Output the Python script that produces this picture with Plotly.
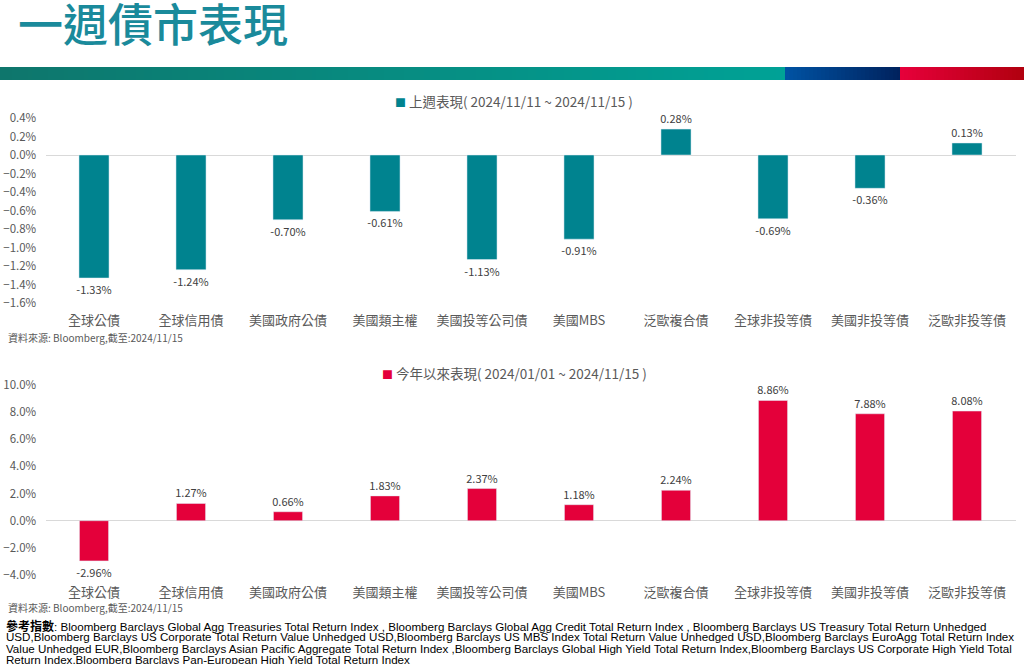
import plotly.graph_objects as go

# ---------------- data ----------------
categories = ["全球公債", "全球信用債", "美國政府公債", "美國類主權", "美國投等公司債",
              "美國MBS", "泛歐複合債", "全球非投等債", "美國非投等債", "泛歐非投等債"]
week_returns = [-1.33, -1.24, -0.70, -0.61, -1.13, -0.91, 0.28, -0.69, -0.36, 0.13]
ytd_returns = [-2.96, 1.27, 0.66, 1.83, 2.37, 1.18, 2.24, 8.86, 7.88, 8.08]
week_label = "上週表現( 2024/11/11 ~ 2024/11/15 )"
ytd_label = "今年以來表現( 2024/01/01 ~ 2024/11/15 )"
title_text = "一週債市表現"
source_text = "資料來源: Bloomberg,截至:2024/11/15"
note_head = "參考指數"
note_lines = [
    ": Bloomberg Barclays Global Agg Treasuries Total Return Index , Bloomberg Barclays Global Agg Credit Total Return Index , Bloomberg Barclays US Treasury Total Return Unhedged",
    "USD,Bloomberg Barclays US Corporate Total Return Value Unhedged USD,Bloomberg Barclays US MBS Index Total Return Value Unhedged USD,Bloomberg Barclays EuroAgg Total Return Index",
    "Value Unhedged EUR,Bloomberg Barclays Asian Pacific Aggregate Total Return Index ,Bloomberg Barclays Global High Yield Total Return Index,Bloomberg Barclays US Corporate High Yield Total",
    "Return Index,Bloomberg Barclays Pan-European High Yield Total Return Index",
]

# ---------------- styling ----------------
W, H = 1024, 664
TEAL = "#00838F"
RED = "#E4003A"
GRAY = "#595959"
CJK = "Noto Sans CJK TC, Noto Sans, sans-serif"


def px(x):
    return x / W


def py(y):
    return 1 - y / H


fig = go.Figure()

label_font = dict(size=11, color="#404040", family=CJK)
fig.add_trace(go.Bar(
    x=categories, y=week_returns, name=week_label, marker_color=TEAL, width=0.31,
    texttemplate="%{y:.2f}%", textposition="outside", cliponaxis=False, constraintext="none",
    textfont=label_font, xaxis="x", yaxis="y", showlegend=False,
))
fig.add_trace(go.Bar(
    x=categories, y=ytd_returns, name=ytd_label, marker_color=RED, width=0.30,
    texttemplate="%{y:.2f}%", textposition="outside", cliponaxis=False, constraintext="none",
    textfont=label_font, xaxis="x2", yaxis="y2", showlegend=False,
))

xdom = [px(45.5), px(1015.5)]
xaxis_common = dict(showgrid=False, showline=False, zeroline=False, ticks="outside", ticklen=5,
                    tickcolor="rgba(0,0,0,0)", tickfont=dict(size=13, color=GRAY, family=CJK),
                    domain=xdom, fixedrange=True)
yaxis_common = dict(showgrid=False, showline=False, zeroline=True, zerolinecolor="#D9D9D9",
                    zerolinewidth=1, ticks="outside", ticklen=6, tickcolor="rgba(0,0,0,0)",
                    tickfont=dict(size=11.5, color=GRAY, family=CJK), ticksuffix="%",
                    tickformat=".1f", fixedrange=True)

fig.update_layout(
    xaxis=dict(**xaxis_common, anchor="y"),
    yaxis=dict(**yaxis_common, anchor="x", range=[-1.6, 0.4], dtick=0.2,
               domain=[py(303), py(118)]),
    xaxis2=dict(**xaxis_common, anchor="y2"),
    yaxis2=dict(**yaxis_common, anchor="x2", range=[-4, 10], dtick=2,
                domain=[py(575), py(385)]),
)


def legend_text(color, label):
    return ("<span style='color:%s;font-size:11px'>■</span> %s" % (color, label))


annotations = [
    dict(text=title_text, x=px(16), y=py(23), xref="paper", yref="paper", xanchor="left",
         yanchor="middle", showarrow=False,
         font=dict(size=45, color="#1A8A9B", family=CJK, weight=500)),
    dict(text=legend_text(TEAL, week_label), x=px(514), y=py(101), xref="paper", yref="paper",
         xanchor="center", yanchor="middle", showarrow=False,
         font=dict(size=13.5, color=GRAY, family=CJK)),
    dict(text=legend_text(RED, ytd_label), x=px(514), y=py(373), xref="paper", yref="paper",
         xanchor="center", yanchor="middle", showarrow=False,
         font=dict(size=13.5, color=GRAY, family=CJK)),
    dict(text=source_text, x=px(6), y=py(337), xref="paper", yref="paper", xanchor="left",
         yanchor="middle", showarrow=False, font=dict(size=10, color=GRAY, family=CJK)),
    dict(text=source_text, x=px(6), y=py(607), xref="paper", yref="paper", xanchor="left",
         yanchor="middle", showarrow=False, font=dict(size=10, color=GRAY, family=CJK)),
]
note_font = dict(size=11.6, color="#000000", family="Liberation Sans, Arial, Noto Sans CJK TC")
for i, line in enumerate(note_lines):
    text = line
    if i == 0:
        text = ("<span style='font-family:Noto Sans CJK TC;font-size:12px'><b>%s</b></span>%s"
                % (note_head, line))
    annotations.append(dict(
        text=text, x=px(4), y=py(625 + 11.5 * i), xref="paper", yref="paper", xanchor="left",
        yanchor="middle", showarrow=False, font=note_font))
fig.update_layout(annotations=annotations)

# header gradient band
def lerp(c1, c2, t):
    return "rgb(%d,%d,%d)" % tuple(round(a + (b - a) * t) for a, b in zip(c1, c2))

sections = [
    (0, 785, (14, 118, 108), (0, 162, 150)),
    (785, 900, (0, 82, 162), (0, 33, 92)),
    (900, 1024, (230, 0, 58), (176, 0, 14)),
]
shapes = []
step = 4
for x0, x1, c1, c2 in sections:
    x = x0
    while x < x1:
        xe = min(x + step, x1)
        t = (x - x0) / max(1, (x1 - x0))
        shapes.append(dict(type="rect", xref="paper", yref="paper", x0=px(x), x1=px(xe + 0.5),
                           y0=py(80), y1=py(67), fillcolor=lerp(c1, c2, t), line=dict(width=0),
                           layer="below"))
        x = xe
fig.update_layout(shapes=shapes)

fig.update_layout(
    autosize=True, margin=dict(l=0, r=0, t=0, b=0, autoexpand=False), showlegend=False,
    paper_bgcolor="white", plot_bgcolor="white", bargap=0.69,
    font=dict(family=CJK, color=GRAY),
)

post = ("document.body.style.margin='0';document.body.style.overflow='hidden';"
        "document.documentElement.style.overflow='hidden';"
        "var d=document.getElementById('{plot_id}');"
        "d.style.position='fixed';d.style.top='0px';d.style.left='0px';"
        "d.style.width='100vw';d.style.height='100vh';"
        "Plotly.Plots.resize(d);")
fig.write_html("out.html", config={"displayModeBar": False, "responsive": True},
               post_script=post, default_width="100vw", default_height="100vh")
